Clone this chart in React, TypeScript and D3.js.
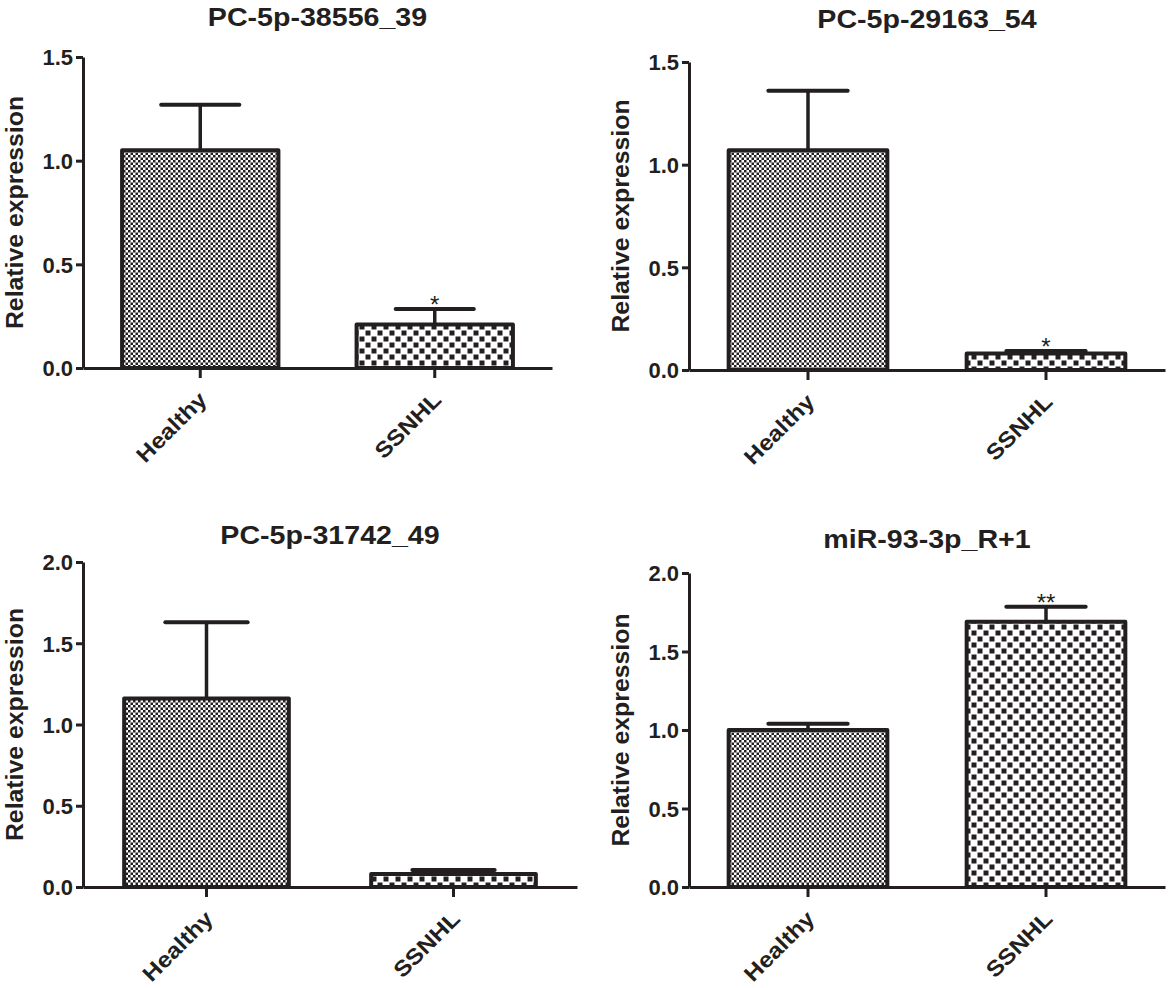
import { useEffect, useRef } from 'react'
import * as d3 from 'd3'

// panel data
const TITLES = ['PC-5p-38556_39', 'PC-5p-29163_54', 'PC-5p-31742_49', 'miR-93-3p_R+1']
const GROUPS = ['Healthy', 'SSNHL']
const HEALTHY_MEAN = [1.05, 1.07, 1.16, 1.0]
const HEALTHY_SEM = [0.22, 0.29, 0.47, 0.04]
const SSNHL_MEAN = [0.21, 0.08, 0.08, 1.69]
const SSNHL_SEM = [0.075, 0.012, 0.025, 0.095]
const STARS = ['*', '*', '', '**']
const Y_MAX = [1.5, 1.5, 2.0, 2.0]
const Y_TICKS = [
  [0, 0.5, 1.0, 1.5],
  [0, 0.5, 1.0, 1.5],
  [0, 0.5, 1.0, 1.5, 2.0],
  [0, 0.5, 1.0, 1.5, 2.0],
]

// plot frames in page pixels
const FRAMES = [
  { l: 83, t: 57, b: 368, r: 552, titleY: 26 },
  { l: 689, t: 62, b: 370, r: 1165, titleY: 28 },
  { l: 83, t: 562, b: 887, r: 577, titleY: 544 },
  { l: 689, t: 573, b: 887, r: 1165, titleY: 548 },
]

const INK = '#231f20'
const FONT = '"Liberation Sans", Arial, sans-serif'

export default function App() {
  const svgRef = useRef<SVGSVGElement>(null)

  useEffect(() => {
    document.body.style.margin = '0'
    const svg = d3.select(svgRef.current)
    svg.selectAll('*').remove()

    // fill patterns
    const defs = svg.append('defs')
    const fine = defs.append('pattern').attr('id', 'fine').attr('patternUnits', 'userSpaceOnUse')
      .attr('width', 5).attr('height', 5)
    fine.append('rect').attr('width', 5).attr('height', 5).attr('fill', '#fff')
    fine.append('rect').attr('width', 2.5).attr('height', 2.5).attr('fill', INK)
    fine.append('rect').attr('x', 2.5).attr('y', 2.5).attr('width', 2.5).attr('height', 2.5).attr('fill', INK)
    const coarse = defs.append('pattern').attr('id', 'coarse').attr('patternUnits', 'userSpaceOnUse')
      .attr('width', 12).attr('height', 12)
    coarse.append('rect').attr('width', 12).attr('height', 12).attr('fill', '#fff')
    coarse.append('rect').attr('x', 0.5).attr('y', 0.5).attr('width', 5).attr('height', 5).attr('fill', INK)
    coarse.append('rect').attr('x', 6.5).attr('y', 6.5).attr('width', 5).attr('height', 5).attr('fill', INK)

    FRAMES.forEach((f, i) => {
      const W = f.r - f.l
      const g = svg.append('g').attr('transform', `translate(${f.l},0)`)
      const x = d3.scaleBand<string>().domain(GROUPS).range([0, W]).paddingInner(1 / 3).paddingOuter(1 / 6)
      const y = d3.scaleLinear().domain([0, Y_MAX[i]]).range([f.b, f.t])

      // y axis
      g.append('g').call(d3.axisLeft(y).tickValues(Y_TICKS[i]).tickSize(7).tickSizeOuter(0).tickFormat(d3.format('.1f')))
        .call(a => {
          a.select('.domain').attr('stroke', INK).attr('stroke-width', 3)
          a.selectAll('.tick line').attr('stroke', INK).attr('stroke-width', 3)
          a.selectAll('.tick text').attr('fill', INK).attr('x', -10).attr('dy', '0.36em')
            .attr('font-family', FONT).attr('font-weight', 'bold').attr('font-size', 22)
        })

      // x axis
      g.append('g').attr('transform', `translate(0,${f.b})`)
        .call(d3.axisBottom(x).tickSize(10).tickSizeOuter(0))
        .call(a => {
          a.select('.domain').attr('stroke', INK).attr('stroke-width', 3)
          a.selectAll('.tick line').attr('stroke', INK).attr('stroke-width', 3)
          a.selectAll('.tick text').remove()
        })

      const means = [HEALTHY_MEAN[i], SSNHL_MEAN[i]]
      const sems = [HEALTHY_SEM[i], SSNHL_SEM[i]]
      const bw = x.bandwidth()

      GROUPS.forEach((grp, k) => {
        const cx = (x(grp) ?? 0) + bw / 2
        const top = y(means[k] + sems[k])
        // error bar
        g.append('line').attr('x1', cx).attr('x2', cx).attr('y1', y(means[k])).attr('y2', top)
          .attr('stroke', INK).attr('stroke-width', 3.5)
        g.append('line').attr('x1', cx - bw / 4).attr('x2', cx + bw / 4).attr('y1', top).attr('y2', top)
          .attr('stroke', INK).attr('stroke-width', 4).attr('stroke-linecap', 'round')
        // bar
        g.append('rect').attr('x', x(grp) ?? 0).attr('y', y(means[k]))
          .attr('width', bw).attr('height', f.b - y(means[k]))
          .attr('fill', k === 0 ? 'url(#fine)' : 'url(#coarse)')
          .attr('stroke', INK).attr('stroke-width', 4).attr('stroke-linejoin', 'round')
        // category label
        g.append('text').attr('transform', `translate(${cx + 8},${f.b + 33}) rotate(-45) scale(1.12,1)`)
          .attr('text-anchor', 'end').attr('fill', INK)
          .attr('font-family', FONT).attr('font-weight', 'bold').attr('font-size', 22)
          .text(grp)
        if (k === 1 && STARS[i]) {
          g.append('text').attr('x', cx).attr('y', top + 4).attr('text-anchor', 'middle')
            .attr('fill', INK).attr('font-family', FONT).attr('font-size', 24).text(STARS[i])
        }
      })

      // title
      g.append('text').attr('transform', `translate(${W / 2},${f.titleY}) scale(1.1,1)`)
        .attr('text-anchor', 'middle').attr('fill', INK)
        .attr('font-family', FONT).attr('font-weight', 'bold').attr('font-size', 26)
        .text(TITLES[i])

      // y label
      g.append('text').attr('transform', `translate(-60,${(f.t + f.b) / 2}) rotate(-90) scale(1.08,1)`)
        .attr('text-anchor', 'middle').attr('fill', INK)
        .attr('font-family', FONT).attr('font-weight', 'bold').attr('font-size', 23)
        .text('Relative expression')
    })
  }, [])

  return <svg ref={svgRef} width={1170} height={988} style={{ display: 'block', background: '#fff' }} />
}
